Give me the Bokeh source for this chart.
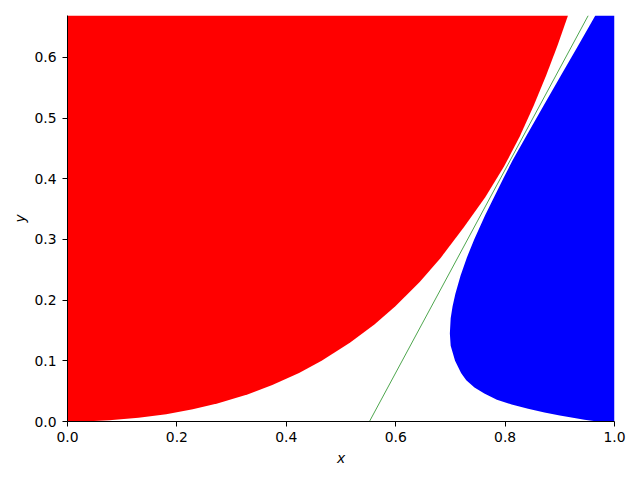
from bokeh.plotting import figure
from bokeh.models import Range1d, FixedTicker
from bokeh.embed import file_html
from bokeh.resources import INLINE

# ---- data ----
x_ticks = [0.0, 0.2, 0.4, 0.6, 0.8, 1.0]
x_tick_labels = ["0.0", "0.2", "0.4", "0.6", "0.8", "1.0"]
y_ticks = [0.0, 0.1, 0.2, 0.3, 0.4, 0.5, 0.6]
y_tick_labels = ["0.0", "0.1", "0.2", "0.3", "0.4", "0.5", "0.6"]
y_max = 0.669

# red region: lower-right boundary from the origin up to the top edge
red_x = [0.0, 0.0387, 0.0764, 0.1299, 0.1805, 0.2290, 0.2755, 0.3302, 0.3744,
         0.4233, 0.4646, 0.5169, 0.5611, 0.5994, 0.6439, 0.6825, 0.7246, 0.764,
         0.798, 0.827, 0.852, 0.875, 0.896, 0.915, 0.0]
red_y = [0.0, 0.0005, 0.002, 0.006, 0.012, 0.020, 0.030, 0.045, 0.060,
         0.080, 0.100, 0.130, 0.160, 0.190, 0.230, 0.270, 0.320, 0.370,
         0.420, 0.470, 0.520, 0.570, 0.620, 0.669, 0.669]

# blue region: left boundary from the top edge down to the x axis
blue_x = [0.965, 0.934, 0.902, 0.870, 0.8385, 0.8135, 0.7965, 0.780, 0.7635,
          0.7435, 0.730, 0.7185, 0.709, 0.704, 0.7005, 0.699, 0.7005, 0.7085,
          0.7195, 0.729, 0.744, 0.762, 0.785, 0.812, 0.842, 0.872, 0.900,
          0.924, 0.945, 0.962, 0.975, 1.0, 1.0]
blue_y = [0.669, 0.620, 0.570, 0.520, 0.470, 0.430, 0.400, 0.370, 0.340,
          0.300, 0.270, 0.240, 0.210, 0.190, 0.170, 0.145, 0.125, 0.100,
          0.080, 0.068, 0.056, 0.046, 0.036, 0.028, 0.021, 0.015, 0.010,
          0.006, 0.003, 0.001, 0.0, 0.0, 0.669]

# green separating line
green_x = [0.552, 0.952]
green_y = [0.0, 0.669]

FONT = "DejaVu Sans"

p = figure(width=632, height=472, output_backend="svg", toolbar_location=None,
           x_range=Range1d(0, 1), y_range=Range1d(0, y_max))
p.min_border_left = 67
p.min_border_right = 18
p.min_border_top = 15
p.min_border_bottom = 51
p.outline_line_color = None
p.background_fill_color = "white"
p.border_fill_color = "white"
p.grid.visible = False

p.patch(red_x, red_y, fill_color="#ff0000", line_color=None)
p.patch(blue_x, blue_y, fill_color="#0000ff", line_color=None)
p.line(green_x, green_y, line_color="#008000", line_width=0.7)

for ax, ticks, labels in ((p.xaxis[0], x_ticks, x_tick_labels),
                          (p.yaxis[0], y_ticks, y_tick_labels)):
    ax.ticker = FixedTicker(ticks=ticks)
    ax.major_label_overrides = {t: l for t, l in zip(ticks, labels)}
    ax.major_tick_out = 5
    ax.major_tick_in = 0
    ax.minor_tick_out = 0
    ax.minor_tick_in = 0
    ax.axis_line_color = "black"
    ax.axis_line_width = 1
    ax.major_tick_line_color = "black"
    ax.major_label_text_font = FONT
    ax.major_label_text_font_size = "13.9px"
    ax.major_label_text_color = "black"
    ax.axis_label_text_font = FONT
    ax.axis_label_text_font_size = "13.9px"
    ax.axis_label_text_font_style = "italic"
    ax.axis_label_text_color = "black"

p.xaxis.axis_label = "x"
p.yaxis.axis_label = "y"
p.xaxis.major_label_standoff = 5
p.yaxis.major_label_standoff = 6
p.xaxis.axis_label_standoff = 5
p.yaxis.axis_label_standoff = 3

open("out.html", "w").write(file_html(p, INLINE))
